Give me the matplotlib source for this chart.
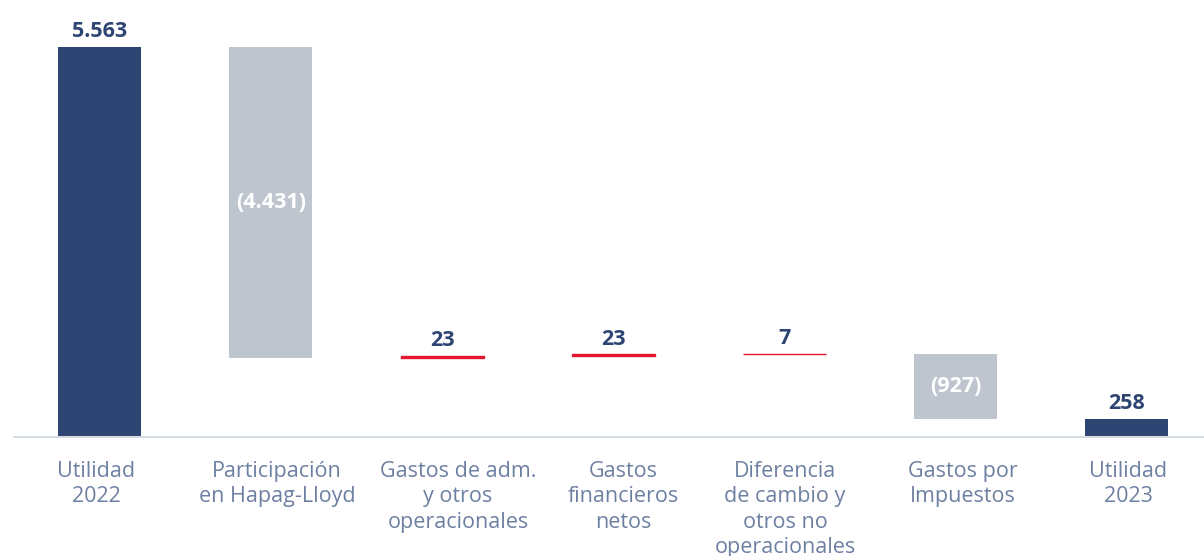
import matplotlib
matplotlib.use("Agg")
import matplotlib.pyplot as plt
import numpy as np

categories = ["Utilidad\n2022", "Participación\nen Hapag-Lloyd", "Gastos de adm.\ny otros\noperacionales",
              "Gastos\nfinancieros\nnetos", "Diferencia\nde cambio y\notros no\noperacionales",
              "Gastos por\nImpuestos", "Utilidad\n2023"]
changes = [5563, -4431, 23, 23, 7, -927, 258]
kinds = ["total", "delta", "delta", "delta", "delta", "delta", "total"]
value_labels = ["5.563", "(4.431)", "23", "23", "7", "(927)", "258"]

NAVY = "#2e4573"
GRAY = "#bec5ce"
RED = "#e4172f"
TEXT = "#6e80a2"

# category labels in the source are not exactly centred under the bars
label_shift = [-0.02, 0.036, 0.093, 0.057, 0.003, 0.043, 0.006]

plt.rcParams['font.family'] = ['Open Sans', 'DejaVu Sans']

fig = plt.figure(figsize=(12.04, 5.56), dpi=100)
ax = fig.add_axes([14 / 1204, 119 / 556, 1190 / 1204, 420.6 / 556])

x = np.arange(len(categories))
running = 0
for i, (v, k, lab) in enumerate(zip(changes, kinds, value_labels)):
    if k == "total":
        bottom, height = 0, v
        running = v
        color = NAVY
    else:
        if v < 0:
            bottom, height = running + v, -v
            color = GRAY
        else:
            bottom, height = running, v
            color = RED
        running += v
    ax.bar(x[i], height, bottom=bottom, width=0.485, color=color,
           edgecolor=color, linewidth=1.0 if color == RED else 0)
    if color == GRAY:
        ax.text(x[i], bottom + height / 2, lab, ha="center", va="center",
                color="white", fontsize=15.5, fontweight="bold")
    else:
        ax.text(x[i], bottom + height + 65, lab, ha="center", va="bottom",
                color=NAVY, fontsize=15.5, fontweight="bold")

ax.set_xlim(-0.5, 6.45)
ax.set_ylim(0, 6000)
ax.set_xticks(x + np.array(label_shift))
ax.set_xticklabels(categories, fontsize=15.5, color=TEXT, linespacing=1.28, va="top")
ax.tick_params(axis="x", length=0, pad=17)
ax.set_yticks([])
for s in ["top", "right", "left"]:
    ax.spines[s].set_visible(False)
ax.spines["bottom"].set_color("#d5dbe3")
ax.spines["bottom"].set_linewidth(1.5)

fig.savefig("out.png", dpi=100)
